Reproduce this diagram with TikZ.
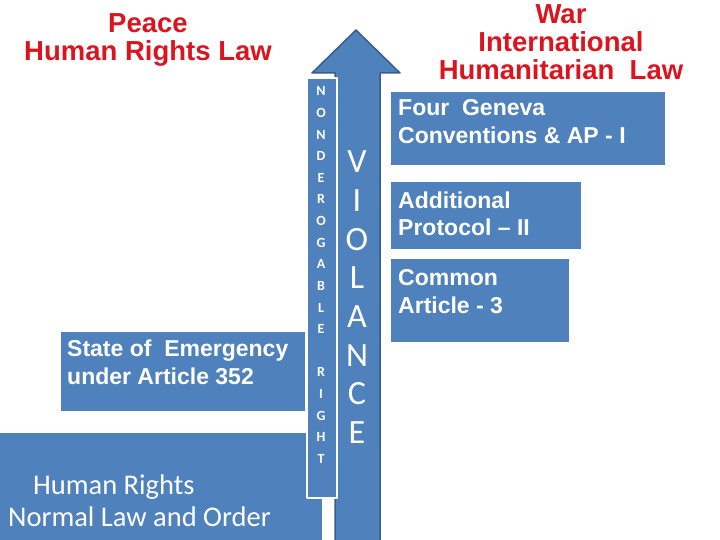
\documentclass[tikz,border=0pt]{standalone}
\usepackage{fontspec}
\setmainfont{Liberation Sans}
\newfontfamily\calibri{Carlito}
\definecolor{boxblue}{HTML}{4F81BD}
\definecolor{arrowedge}{HTML}{385D8A}
\definecolor{titlered}{HTML}{DC141E}
\tikzset{
 bluebox/.style={fill=boxblue, inner sep=0pt, anchor=north west},
 boxtext/.style={text=white, font=\bfseries\fontsize{23}{28}\selectfont, align=left, anchor=base west, inner sep=0pt},
 titletext/.style={text=titlered, font=\bfseries\fontsize{27.5}{28}\selectfont, align=center, anchor=base, inner sep=0pt},
 ndletter/.style={text=white, font=\calibri\bfseries\fontsize{14}{14}\selectfont, anchor=base, inner sep=0pt},
 vletter/.style={text=white, font=\calibri\fontsize{34}{34}\selectfont, anchor=base, inner sep=0pt},
}
\begin{document}
\begin{tikzpicture}[x=1pt, y=-1pt, line join=round]
 \useasboundingbox (0,0) rectangle (720,540);
 % titles (base = last line)
 \node[titletext] (peace) at (148,61) {Peace\\Human Rights Law};
 \node[titletext] (war) at (561,80) {War\\International\\Humanitarian\ \ Law};
 % left boxes
 \node[bluebox, minimum width=322, minimum height=107] (normal) at (0,433) {};
 \node[bluebox, minimum width=244, minimum height=79] (emergency) at (61,332) {};
 % right boxes
 \node[bluebox, minimum width=274, minimum height=73] (geneva) at (391,92) {};
 \node[bluebox, minimum width=190, minimum height=67] (protocol) at (391,182) {};
 \node[bluebox, minimum width=178, minimum height=83] (common) at (391,259) {};
 % violence arrow
 \draw[fill=boxblue, draw=arrowedge, line width=1.5pt]
 (335,541) -- (335,73) -- (312,73) -- (356,30) -- (400,73) -- (380,73) -- (380,541);
 \node[bluebox, draw=white, line width=2pt, minimum width=30, minimum height=420] (nonderog) at (306,77) {};
 \foreach \l [count=\i from 0] in {N,O,N,D,E,R,O,G,A,B,L,E}
 \node[ndletter] (nd\i) at (321,{96+21.6*\i}) {\l};
 \foreach \l [count=\i from 13] in {R,I,G,H,T}
 \node[ndletter] (rt\i) at (321,{96+21.6*\i}) {\l};
 \foreach \l [count=\i from 0] in {V,I,O,L,A,N,C,E}
 \node[vletter] (v\i) at (357,{173+38.6*\i}) {\l};
 % box texts (base = last line)
 \node[boxtext] (emergtext) at (67,384) {State of\ \ Emergency\\under Article 352};
 \node[boxtext] (genevatext) at (398,144) {Four\ \ Geneva\\Conventions \& AP - I};
 \node[boxtext] (protocoltext) at (398,236) {Additional\\Protocol -- II};
 \node[boxtext] (commontext) at (398,313) {Common\\Article - 3};
 \node[boxtext, font=\calibri\fontsize{28.5}{32}\selectfont] (normaltext) at (8,526)
 {\hspace*{25pt}Human Rights\\Normal Law and Order};
\end{tikzpicture}
\end{document}
